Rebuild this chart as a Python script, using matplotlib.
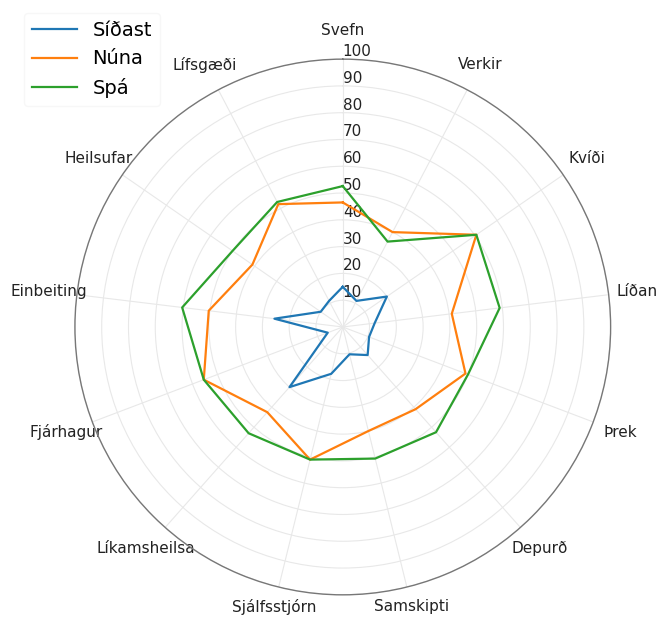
#!/usr/bin/env python3
#
# Radar chart of self-assessment scores: last time, now and forecast
#
# Outputs: out.png

import numpy as np
import matplotlib
matplotlib.use('Agg')
import matplotlib.pyplot as plt

categories = ['Svefn', 'Verkir', 'Kvíði', 'Líðan', 'Þrek', 'Depurð', 'Samskipti',
              'Sjálfsstjórn', 'Líkamsheilsa', 'Fjárhagur', 'Einbeiting',
              'Heilsufar', 'Lífsgæði']

sidast = [15, 11, 20, 12, 10.5, 14, 10.5, 18, 30, 6, 25.7, 10, 11]
nuna = [46.5, 40, 60.6, 41, 49, 41, 40, 51, 42.5, 55.5, 50.4, 41, 51.8]
spa = [52.6, 36, 60.6, 59, 50, 52.5, 50.6, 51, 53, 55.5, 60.4, 50, 52.7]

series_names = ['Síðast', 'Núna', 'Spá']
rticks = [10, 20, 30, 40, 50, 60, 70, 80, 90, 100]


def main():
    n = len(categories)
    angles = [i / float(n) * 2 * np.pi for i in range(n)]
    angles += angles[:1]

    fig = plt.figure(figsize=(6.63, 6.27), dpi=100)
    ax = fig.add_axes([0.113, 0.051, 0.808, 0.855], polar=True)

    ax.set_theta_offset(np.pi / 2)
    ax.set_theta_direction(-1)

    for name, vals in zip(series_names, [sidast, nuna, spa]):
        v = list(vals) + vals[:1]
        ax.plot(angles, v, linewidth=1.6, label=name)

    ax.set_xticks(angles[:-1])
    ax.set_xticklabels(categories, fontsize=11, color='#222222')
    ax.tick_params(axis='x', pad=10)
    # the two bottom labels sit a bit closer to the circle
    ticks = ax.xaxis.get_major_ticks()
    for i in (6, 7):
        ticks[i].set_pad(4)

    ax.set_rlabel_position(0)
    ax.set_yticks(rticks)
    ax.set_yticklabels([str(t) for t in rticks], fontsize=11, color='#222222')
    ax.set_ylim(0, 100)

    ax.grid(color='#e8e8e8', linewidth=0.8)
    ax.spines['polar'].set_color('#777777')
    ax.spines['polar'].set_linewidth(1.0)

    leg = fig.legend(loc='upper left', bbox_to_anchor=(0.022, 0.995),
                     fontsize=14, frameon=True, handlelength=2.3)
    leg.get_frame().set_edgecolor('#f5f5f5')

    fig.savefig('out.png', dpi=100)


##-------------------------------------------------------##

if __name__ == '__main__':
    main()
